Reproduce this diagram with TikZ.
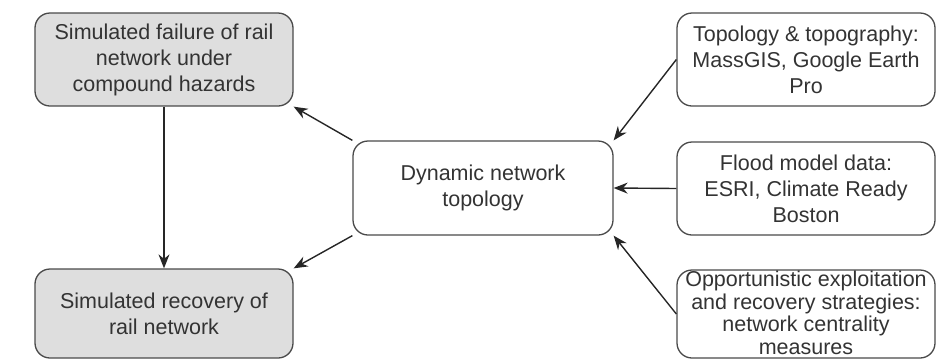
\documentclass[tikz,border=0pt]{standalone}
\usepackage{fontspec}
\setmainfont{Liberation Sans}
\usetikzlibrary{arrows.meta}
\definecolor{boxgray}{HTML}{DEDEDE}
\definecolor{edgegray}{HTML}{4A4A4A}
\definecolor{txtgray}{HTML}{333333}
\tikzset{
  box/.style={draw=edgegray, line width=1.3pt, rounded corners=15pt, inner sep=0pt,
    align=center, text=txtgray, font=\fontsize{21.5pt}{26pt}\selectfont},
  grey/.style={fill=boxgray},
  conn/.style={draw=black!85, line width=1.4pt, -{Stealth[length=14pt,width=11pt]}}
}
\begin{document}
\begin{tikzpicture}[x=1pt,y=-1pt]
\useasboundingbox (0,0) rectangle (942,360);
\node[box,grey,minimum width=258pt,minimum height=93pt] (fail) at (164,59.5)
  {Simulated failure of rail\\network under\\compound hazards};
\node[box,grey,minimum width=258pt,minimum height=89pt] (rec) at (164,313.5)
  {Simulated recovery of\\rail network};
\node[box,minimum width=260pt,minimum height=94pt] (dyn) at (483,188)
  {Dynamic network\\topology};
\node[box,minimum width=258pt,minimum height=93pt] (topo) at (806,59.5)
  {Topology \& topography:\\MassGIS, Google Earth\\Pro};
\node[box,minimum width=258pt,minimum height=93pt] (flood) at (806,188.5)
  {Flood model data:\\ESRI, Climate Ready\\Boston};
\node[box,minimum width=258pt,minimum height=88pt] (opp) at (806,314)
  {};
\node[align=center,text=txtgray,font=\fontsize{21.5pt}{22.5pt}\selectfont,inner sep=0pt] (opptext) at (806,313)
  {Opportunistic exploitation\\and recovery strategies:\\network centrality\\measures};
\draw[conn] (dyn.north west) -- (fail.south east);
\draw[conn] (dyn.south west) -- (rec.north east);
\draw[conn] (fail.south) -- (rec.north);
\draw[conn] (topo.west) -- (dyn.north east);
\draw[conn] (flood.west) -- (dyn.east);
\draw[conn] (opp.west) -- (dyn.south east);
\end{tikzpicture}
\end{document}
